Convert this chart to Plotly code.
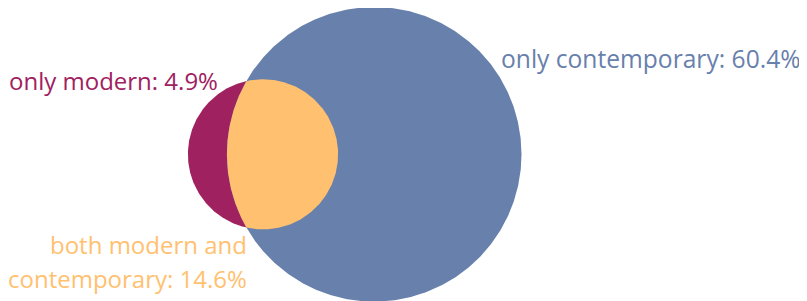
import numpy as np
import plotly.graph_objects as go

# ---- data ----
set_names = ["modern", "contemporary"]
only_modern = 4.9
both_modern_contemporary = 14.6
only_contemporary = 60.4
label_only_modern = "only modern: 4.9%"
label_only_contemporary = "only contemporary: 60.4%"
label_both_lines = ["both modern and", "contemporary: 14.6%"]

col_modern = "#a0215f"
col_contemporary = "#6880ac"
col_both = "#ffc170"

# ---- geometry from data (area-proportional Venn) ----
area_m = only_modern + both_modern_contemporary
area_c = only_contemporary + both_modern_contemporary
r_m = np.sqrt(area_m / np.pi)
r_c = np.sqrt(area_c / np.pi)


def lens_area(d, r1, r2):
    if d >= r1 + r2:
        return 0.0
    if d <= abs(r1 - r2):
        return np.pi * min(r1, r2) ** 2
    a1 = r1 ** 2 * np.arccos((d ** 2 + r1 ** 2 - r2 ** 2) / (2 * d * r1))
    a2 = r2 ** 2 * np.arccos((d ** 2 + r2 ** 2 - r1 ** 2) / (2 * d * r2))
    a3 = 0.5 * np.sqrt((-d + r1 + r2) * (d + r1 - r2) * (d - r1 + r2) * (d + r1 + r2))
    return a1 + a2 - a3


lo, hi = abs(r_c - r_m) + 1e-9, r_c + r_m
for _ in range(200):
    mid = 0.5 * (lo + hi)
    if lens_area(mid, r_m, r_c) > both_modern_contemporary:
        lo = mid
    else:
        hi = mid
d = 0.5 * (lo + hi)

cm = (0.0, 0.0)
cc = (d, 0.0)

t = np.linspace(0, 2 * np.pi, 721)
xm = cm[0] + r_m * np.cos(t)
ym = cm[1] + r_m * np.sin(t)
xc = cc[0] + r_c * np.cos(t)
yc = cc[1] + r_c * np.sin(t)

a = (d ** 2 + r_m ** 2 - r_c ** 2) / (2 * d)
h = np.sqrt(r_m ** 2 - a ** 2)
phi_m = np.arctan2(h, a)
phi_c = np.arctan2(h, a - d)
t1 = np.linspace(-phi_m, phi_m, 300)
t2 = np.linspace(phi_c, 2 * np.pi - phi_c, 300)
xl = np.concatenate([cm[0] + r_m * np.cos(t1), cc[0] + r_c * np.cos(t2)])
yl = np.concatenate([cm[1] + r_m * np.sin(t1), cc[1] + r_c * np.sin(t2)])

fig = go.Figure()
for xs, ys, col in [(xm, ym, col_modern), (xc, yc, col_contemporary), (xl, yl, col_both)]:
    fig.add_trace(go.Scatter(x=xs, y=ys, mode="lines", fill="toself", fillcolor=col,
                             line=dict(width=0, color=col), hoverinfo="skip", showlegend=False))

# page body has an 8px margin, so the figure is drawn 8px in from the window edge
OFF = 8
W, H = 807 - OFF, 301 - OFF
S = 30.15  # px per unit
cx_px, cy_px = 263 - OFF, 154.3 - OFF
fig.update_xaxes(visible=False, range=[-cx_px / S, (W - cx_px) / S])
fig.update_yaxes(visible=False, range=[-(H - cy_px) / S, cy_px / S])

font_family = "Open Sans"
fs = 24


def ann(text, px, py, xanchor, color, size=fs):
    px -= OFF
    py -= OFF
    return dict(text=text, x=px / W, y=1 - py / H, xref="paper", yref="paper",
                xanchor=xanchor, yanchor="middle", showarrow=False,
                font=dict(family=font_family, size=size, color=color))


fig.update_layout(
    width=W, height=H, margin=dict(l=0, r=0, t=0, b=0),
    paper_bgcolor="white", plot_bgcolor="white",
    annotations=[
        ann(label_only_modern, 220, 80.3, "right", col_modern),
        ann(label_only_contemporary, 498.7, 58.6, "left", col_contemporary, 24.6),
        ann(label_both_lines[0], 248.5, 244.9, "right", col_both),
        ann(label_both_lines[1], 248.5, 278.3, "right", col_both),
    ],
)

fig.write_html("out.html")
